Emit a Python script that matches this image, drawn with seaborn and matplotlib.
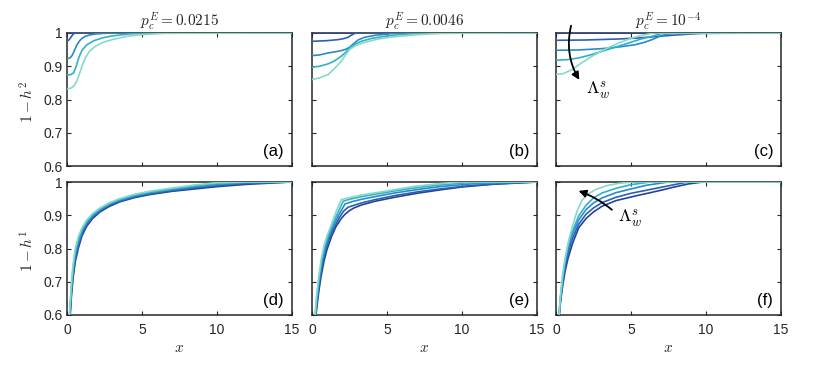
import numpy as np
import pandas as pd
import matplotlib
matplotlib.use("Agg")
import matplotlib.pyplot as plt
import seaborn as sns

# ---------------- data ----------------
COLORS = ['#24449b', '#2c5fb1', '#2a8ac8', '#31b0c9', '#86d9c6']
CURVES = ['c0', 'c1', 'c2', 'c3', 'c4']
TITLES = [r'$p_c^E = 0.0215$', r'$p_c^E = 0.0046$', r'$p_c^E = 10^{-4}$']
PANEL_LABELS = ['(a)', '(b)', '(c)', '(d)', '(e)', '(f)']
YLABELS = [r'$1-h^2$', r'$1-h^1$']
XTICKS = [0, 5, 10, 15]
YTICKS = [0.6, 0.7, 0.8, 0.9, 1.0]
YTICKLABELS = ['0.6', '0.7', '0.8', '0.9', '1']

# panel (a)
A_X = [[0, 15],
       [0, 0.1, 0.2, 0.3, 0.4, 0.5, 0.7, 15],
       [0, 0.2, 0.35, 0.5, 0.67, 0.85, 1.0, 1.22, 1.5, 1.89, 2.5, 3.5, 15],
       [0, 0.25, 0.44, 0.6, 0.78, 1.0, 1.33, 1.8, 2.33, 3.0, 4.1, 5.5, 15],
       [0, 0.25, 0.44, 0.65, 0.89, 1.05, 1.22, 1.5, 1.89, 2.4, 3.0, 4.0, 5.0, 6.5, 15]]
A_Y = [[1.0, 1.0],
       [0.977, 0.978, 0.983, 0.99, 0.996, 0.999, 1.0, 1.0],
       [0.923, 0.925, 0.933, 0.948, 0.965, 0.977, 0.984, 0.99, 0.994, 0.997, 0.999, 1.0, 1.0],
       [0.873, 0.875, 0.88, 0.898, 0.925, 0.948, 0.965, 0.977, 0.985, 0.991, 0.997, 1.0, 1.0],
       [0.832, 0.834, 0.84, 0.855, 0.885, 0.907, 0.925, 0.945, 0.96, 0.972, 0.98, 0.99, 0.995, 0.999, 1.0]]

# panel (b)
B_X = [[0, 15],
       [0, 1.0, 1.73, 2.1, 2.4, 2.6, 2.85, 3.2, 15],
       [0, 0.5, 1.07, 1.5, 1.95, 2.25, 2.5, 2.8, 3.07, 3.5, 4.18, 5.5, 15],
       [0, 0.5, 1.07, 1.5, 1.95, 2.25, 2.5, 2.9, 3.29, 4.0, 4.85, 6.0, 7.5, 15],
       [0, 0.5, 1.07, 1.5, 1.95, 2.25, 2.5, 2.9, 3.4, 4.3, 5.29, 7.07, 8.5, 15]]
B_Y = [[1.0, 1.0],
       [0.975, 0.977, 0.98, 0.983, 0.987, 0.993, 0.999, 1.0, 1.0],
       [0.932, 0.934, 0.94, 0.943, 0.947, 0.951, 0.957, 0.969, 0.979, 0.987, 0.993, 0.999, 1.0],
       [0.897, 0.9, 0.907, 0.916, 0.93, 0.942, 0.955, 0.967, 0.975, 0.984, 0.99, 0.996, 1.0, 1.0],
       [0.86, 0.865, 0.875, 0.893, 0.915, 0.935, 0.95, 0.962, 0.97, 0.981, 0.988, 0.995, 0.999, 1.0]]

# panel (c)
C_X = [[0, 15],
       [0, 2.0, 4.18, 5.5, 6.84, 8.0, 9.0, 9.95, 15],
       [0, 1.5, 3.07, 4.2, 5.29, 5.9, 6.4, 6.9, 7.29, 8.0, 15],
       [0, 0.8, 1.51, 2.3, 3.07, 4.0, 4.84, 5.6, 6.4, 7.0, 15],
       [0, 0.5, 1.07, 1.7, 2.4, 3.3, 4.18, 5.0, 5.73, 6.5, 15]]
C_Y = [[1.0, 1.0],
       [0.978, 0.979, 0.982, 0.985, 0.99, 0.994, 0.997, 1.0, 1.0],
       [0.948, 0.949, 0.953, 0.958, 0.965, 0.972, 0.98, 0.99, 0.995, 1.0, 1.0],
       [0.918, 0.92, 0.925, 0.934, 0.945, 0.958, 0.97, 0.981, 0.99, 0.998, 1.0],
       [0.875, 0.878, 0.89, 0.91, 0.93, 0.952, 0.97, 0.984, 0.993, 1.0, 1.0]]

# panel (d)
D_XGRID = [0.15, 0.2, 0.3, 0.4, 0.55, 0.75, 1.0, 1.3, 1.7, 2.2, 2.8, 3.5, 4.5, 5.5, 7, 8.5, 10, 12, 15]
D_Y = [[0.55, 0.59, 0.66, 0.71, 0.76, 0.80, 0.838, 0.866, 0.89, 0.91, 0.926, 0.94, 0.953, 0.962, 0.972, 0.979, 0.986, 0.993, 1.0],
       [0.56, 0.60, 0.67, 0.72, 0.77, 0.808, 0.845, 0.871, 0.894, 0.913, 0.929, 0.942, 0.955, 0.964, 0.974, 0.982, 0.989, 0.996, 1.0],
       [0.57, 0.61, 0.68, 0.73, 0.78, 0.817, 0.851, 0.876, 0.898, 0.916, 0.932, 0.945, 0.958, 0.967, 0.977, 0.985, 0.992, 0.998, 1.0],
       [0.58, 0.62, 0.69, 0.74, 0.79, 0.826, 0.857, 0.88, 0.901, 0.919, 0.934, 0.947, 0.96, 0.969, 0.979, 0.988, 0.995, 1.0, 1.0],
       [0.59, 0.63, 0.70, 0.75, 0.80, 0.835, 0.862, 0.885, 0.905, 0.922, 0.937, 0.95, 0.963, 0.972, 0.982, 0.991, 0.998, 1.0, 1.0]]

# panel (e)
E_X = [[0.15, 0.2, 0.3, 0.45, 0.6, 0.8, 1.0, 1.3, 1.6, 1.95, 2.2, 2.5, 2.8, 3.3, 4.2, 5.5, 7, 8.5, 10, 12, 15],
       [0.15, 0.2, 0.3, 0.45, 0.65, 0.85, 1.1, 1.4, 1.8, 2.1, 2.4, 2.8, 3.3, 4.2, 5.5, 7.0, 8.5, 10.5, 12.5, 15],
       [0.15, 0.2, 0.3, 0.45, 0.65, 0.85, 1.1, 1.4, 1.8, 2.2, 2.6, 3.3, 4.2, 5.5, 7.0, 8.5, 10.5, 12.5, 15],
       [0.15, 0.2, 0.3, 0.45, 0.65, 0.85, 1.05, 1.35, 1.7, 2.07, 2.5, 3.3, 4.2, 5.5, 7.0, 8.5, 10.5, 15],
       [0.15, 0.2, 0.3, 0.45, 0.62, 0.8, 1.0, 1.29, 1.6, 1.95, 2.5, 3.3, 4.18, 5.5, 6.84, 8.5, 9.85, 15]]
E_Y = [[0.53, 0.57, 0.615, 0.67, 0.715, 0.762, 0.797, 0.836, 0.866, 0.89, 0.903, 0.914, 0.922, 0.931, 0.942, 0.954, 0.966, 0.976, 0.985, 0.993, 1.0],
       [0.54, 0.57, 0.625, 0.685, 0.745, 0.787, 0.823, 0.856, 0.891, 0.912, 0.924, 0.93, 0.937, 0.947, 0.959, 0.97, 0.979, 0.989, 0.995, 1.0],
       [0.55, 0.58, 0.635, 0.695, 0.755, 0.797, 0.833, 0.866, 0.902, 0.934, 0.94, 0.948, 0.956, 0.967, 0.977, 0.986, 0.994, 0.998, 1.0],
       [0.56, 0.59, 0.645, 0.705, 0.765, 0.805, 0.835, 0.87, 0.905, 0.942, 0.948, 0.956, 0.963, 0.973, 0.983, 0.991, 0.998, 1.0],
       [0.57, 0.6, 0.655, 0.715, 0.77, 0.808, 0.838, 0.872, 0.91, 0.947, 0.953, 0.961, 0.967, 0.977, 0.987, 0.995, 1.0, 1.0]]

# panel (f)
F_X = [[0.15, 0.22, 0.3, 0.45, 0.6, 0.8, 1.1, 1.51, 2.0, 2.5, 3.07, 4.0, 5.29, 6.2, 7.07, 7.8, 8.8, 9.8, 15],
       [0.15, 0.21, 0.3, 0.45, 0.6, 0.8, 1.1, 1.5, 2.0, 2.5, 3.07, 4.0, 5.0, 6.0, 7.0, 8.0, 8.8, 15],
       [0.15, 0.2, 0.3, 0.45, 0.6, 0.8, 1.1, 1.5, 2.0, 2.5, 3.07, 4.0, 5.0, 6.0, 7.5, 15],
       [0.15, 0.2, 0.3, 0.45, 0.6, 0.8, 1.1, 1.5, 2.0, 2.5, 3.07, 4.0, 5.0, 6.3, 15],
       [0.15, 0.2, 0.3, 0.45, 0.62, 0.85, 1.07, 1.4, 1.73, 2.1, 2.62, 3.38, 4.18, 5.16, 15]]
F_Y = [[0.53, 0.6, 0.64, 0.69, 0.73, 0.77, 0.815, 0.862, 0.89, 0.91, 0.927, 0.944, 0.958, 0.967, 0.976, 0.984, 0.994, 1.0, 1.0],
       [0.54, 0.6, 0.645, 0.7, 0.742, 0.785, 0.83, 0.872, 0.903, 0.922, 0.938, 0.954, 0.966, 0.975, 0.984, 0.993, 1.0, 1.0],
       [0.55, 0.6, 0.65, 0.708, 0.752, 0.797, 0.843, 0.885, 0.917, 0.937, 0.952, 0.968, 0.979, 0.99, 1.0, 1.0],
       [0.555, 0.6, 0.655, 0.716, 0.762, 0.81, 0.852, 0.897, 0.93, 0.952, 0.967, 0.981, 0.992, 1.0, 1.0],
       [0.56, 0.6, 0.66, 0.725, 0.775, 0.825, 0.862, 0.912, 0.945, 0.963, 0.977, 0.989, 0.996, 1.0, 1.0]]

# annotation arrows (data coords)
ARROW_C = {'start': (1.05, 1.03), 'end': (1.65, 0.852), 'text': (2.0, 0.829)}
ARROW_F = {'start': (3.87, 0.911), 'end': (1.33, 0.976), 'text': (4.1, 0.892)}

# ---------------- styling ----------------
sns.set_theme(style='white')
plt.rcParams['font.family'] = ['Liberation Sans', 'DejaVu Sans']
plt.rcParams['mathtext.fontset'] = 'cm'

DARK = '#262626'


def to_frame(xs, ys):
    rows = []
    for name, x, y in zip(CURVES[-len(xs):], xs, ys):
        rows.append(pd.DataFrame({'x': x, 'y': y, 'curve': name}))
    return pd.concat(rows, ignore_index=True)


panels = [
    to_frame(A_X, A_Y), to_frame(B_X, B_Y), to_frame(C_X, C_Y),
    to_frame([D_XGRID] * 5, D_Y), to_frame(E_X, E_Y), to_frame(F_X, F_Y),
]

W, H = 830, 369
fig = plt.figure(figsize=(W / 100, H / 100), dpi=100)
lefts = [67, 312, 556]
tops = [33, 182]
aw, ah = 225, 133

axes = []
for r in range(2):
    for c in range(3):
        ax = fig.add_axes([lefts[c] / W, 1 - (tops[r] + ah) / H, aw / W, ah / H])
        axes.append(ax)

palette = dict(zip(CURVES, COLORS))
for i, (ax, df) in enumerate(zip(axes, panels)):
    sns.lineplot(data=df, x='x', y='y', hue='curve', palette=palette,
                 hue_order=CURVES, estimator=None, legend=False,
                 linewidth=1.2, ax=ax, zorder=3)
    ax.set_xlim(0, 15)
    ax.set_ylim(0.6, 1.0)
    ax.set_xticks(XTICKS)
    ax.set_yticks(YTICKS)
    r, c = divmod(i, 3)
    if r == 1:
        ax.set_xticklabels([str(t) for t in XTICKS])
    else:
        ax.set_xticklabels([])
    if c == 0:
        ax.set_yticklabels(YTICKLABELS)
    else:
        ax.set_yticklabels([])
    ax.set_xlabel('')
    ax.set_ylabel('')
    ax.tick_params(axis='both', direction='in', length=3, width=0.8,
                   colors=DARK, labelsize=10, top=True, right=True,
                   bottom=True, left=True)
    ax.tick_params(axis='x', pad=6)
    ax.tick_params(axis='y', pad=3)
    for sp in ax.spines.values():
        sp.set_color(DARK)
        sp.set_linewidth(1.1)
        sp.set_visible(True)
    ax.text(0.965, 0.05, PANEL_LABELS[i], transform=ax.transAxes,
            ha='right', va='bottom', fontsize=12, color='black')
    if r == 0:
        ax.set_title(TITLES[c], fontsize=11, pad=1.5, color=DARK)
    else:
        ax.text(0.5, -0.25, r'$x$', transform=ax.transAxes, ha='center',
                va='center', fontsize=11, color=DARK)

for r in range(2):
    fig.text(28 / W, 1 - (tops[r] + ah / 2 + 2) / H, YLABELS[r], rotation=90,
             ha='center', va='center', fontsize=11, color=DARK)

# arrows with Lambda labels
axc = axes[2]
axc.annotate('', xy=ARROW_C['end'], xytext=ARROW_C['start'],
             xycoords='data', textcoords='data', annotation_clip=False,
             arrowprops=dict(arrowstyle='-|>', color='black', lw=1.3,
                             mutation_scale=11,
                             connectionstyle='arc3,rad=0.22'))
axc.text(*ARROW_C['text'], r'$\Lambda_w^s$', ha='left', va='center',
         fontsize=13, color='black')

axf = axes[5]
axf.annotate('', xy=ARROW_F['end'], xytext=ARROW_F['start'],
             xycoords='data', textcoords='data', annotation_clip=False,
             arrowprops=dict(arrowstyle='-|>', color='black', lw=1.3,
                             mutation_scale=11,
                             connectionstyle='arc3,rad=0.1'))
axf.text(*ARROW_F['text'], r'$\Lambda_w^s$', ha='left', va='center',
         fontsize=13, color='black')

fig.savefig('out.png', dpi=100)
